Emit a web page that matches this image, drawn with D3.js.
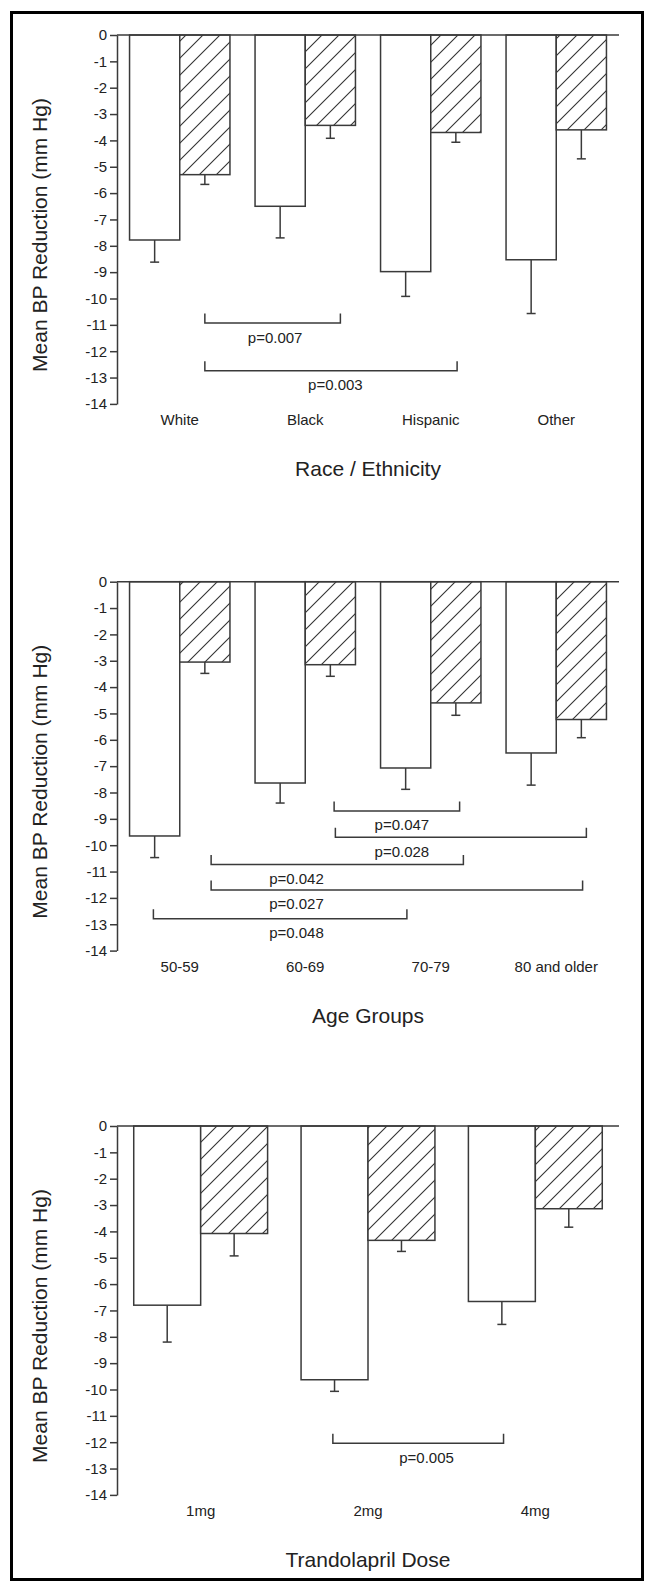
<!DOCTYPE html>
<html lang="en">
<head>
<meta charset="utf-8">
<script src="https://d3js.org/d3.v7.min.js"></script>
<style>
body { margin: 0; background: #fff; }
text { font-family: "Liberation Sans", Arial, sans-serif; fill: #222; }
</style>
</head>
<body>
<script>
// ---- data (mm Hg, negative = reduction) ----
// Race / Ethnicity
var raceCats = ["White", "Black", "Hispanic", "Other"];
var raceOpen = [-7.78, -6.5, -8.98, -8.53];
var raceOpenErr = [-8.62, -7.7, -9.92, -10.57];
var raceHatch = [-5.3, -3.43, -3.7, -3.6];
var raceHatchErr = [-5.67, -3.92, -4.07, -4.7];
// brackets: from/to/tx in group steps, y in mm Hg
var raceBrackets = [
  {from: 0.60, to: 1.68, y: -10.93, label: "p=0.007", tx: 1.16},
  {from: 0.60, to: 2.61, y: -12.74, label: "p=0.003", tx: 1.64}
];

// Age groups
var ageCats = ["50-59", "60-69", "70-79", "80 and older"];
var ageOpen = [-9.65, -7.64, -7.07, -6.5];
var ageOpenErr = [-10.47, -8.4, -7.88, -7.72];
var ageHatch = [-3.05, -3.15, -4.6, -5.23];
var ageHatchErr = [-3.48, -3.59, -5.07, -5.92];
var ageBrackets = [
  {from: 1.63, to: 2.63, y: -8.70, label: "p=0.047", tx: 2.17},
  {from: 1.64, to: 3.64, y: -9.70, label: "p=0.028", tx: 2.17},
  {from: 0.65, to: 2.66, y: -10.73, label: "p=0.042", tx: 1.33},
  {from: 0.65, to: 3.61, y: -11.70, label: "p=0.027", tx: 1.33},
  {from: 0.19, to: 2.21, y: -12.79, label: "p=0.048", tx: 1.33}
];

// Trandolapril dose
var doseCats = ["1mg", "2mg", "4mg"];
var doseOpen = [-6.8, -9.63, -6.66];
var doseOpenErr = [-8.2, -10.07, -7.53];
var doseHatch = [-4.08, -4.34, -3.14];
var doseHatchErr = [-4.93, -4.76, -3.84];
var doseBrackets = [
  {from: 1.19, to: 2.21, y: -12.04, label: "p=0.005", tx: 1.75}
];

var yTicks = d3.range(0, -15, -1);

var W = 645, H = 1582;
var ink = "#3a3a3a";

var svg = d3.select("body").append("svg")
    .attr("width", W)
    .attr("height", H);

var defs = svg.append("defs");
var pat = defs.append("pattern")
    .attr("id", "hatch")
    .attr("patternUnits", "userSpaceOnUse")
    .attr("width", 17)
    .attr("height", 17);
pat.append("rect").attr("width", 17).attr("height", 17).attr("fill", "#fff");
pat.append("path")
    .attr("d", "M0,17L17,0M-4,4L4,-4M13,21L21,13")
    .attr("stroke", "#333")
    .attr("stroke-width", 1.1);

// outer frame
svg.append("rect")
    .attr("x", 11.5).attr("y", 12.5)
    .attr("width", 631).attr("height", 1567)
    .attr("fill", "none")
    .attr("stroke", "#000")
    .attr("stroke-width", 3);

function drawPanel(top, cats, openVals, openErr, hatchVals, hatchErr, brackets, title) {
  var x = d3.scaleBand()
      .domain(cats)
      .range([117, 619])
      .paddingInner(0.2)
      .paddingOuter(0.1);
  var y = d3.scaleLinear()
      .domain([0, -14])
      .range([top, top + 14 * 26.35]);

  var g = svg.append("g");
  var bw = x.bandwidth() / 2;
  var step = x.step();
  var x0 = x(cats[0]);
  function xu(u) { return x0 + u * step; }

  // y axis
  var yAxis = d3.axisLeft(y)
      .tickValues(yTicks)
      .tickFormat(function(d) { return String(d); })
      .tickSize(7)
      .tickSizeOuter(0)
      .tickPadding(3);
  var ag = g.append("g")
      .attr("transform", "translate(117,0)")
      .call(yAxis);
  ag.select(".domain").attr("stroke", ink).attr("stroke-width", 1.5);
  ag.selectAll(".tick line").attr("stroke", ink).attr("stroke-width", 1.5);
  ag.selectAll(".tick text")
      .attr("font-size", 15)
      .style("font-family", "'Liberation Sans', Arial, sans-serif")
      .attr("fill", "#222");

  // bars
  var rows = cats.map(function(c, i) {
    return {cat: c, open: openVals[i], openErr: openErr[i], hatch: hatchVals[i], hatchErr: hatchErr[i]};
  });

  var bars = [];
  rows.forEach(function(r) {
    bars.push({x: x(r.cat), v: r.open, e: r.openErr, fill: "#fff"});
    bars.push({x: x(r.cat) + bw, v: r.hatch, e: r.hatchErr, fill: "url(#hatch)"});
  });

  g.selectAll("line.err")
    .data(bars)
    .enter().append("line")
      .attr("class", "err")
      .attr("x1", function(d) { return d.x + bw / 2; })
      .attr("x2", function(d) { return d.x + bw / 2; })
      .attr("y1", function(d) { return y(d.v); })
      .attr("y2", function(d) { return y(d.e); })
      .attr("stroke", ink).attr("stroke-width", 1.5);
  g.selectAll("line.cap")
    .data(bars)
    .enter().append("line")
      .attr("class", "cap")
      .attr("x1", function(d) { return d.x + bw / 2 - 4.5; })
      .attr("x2", function(d) { return d.x + bw / 2 + 4.5; })
      .attr("y1", function(d) { return y(d.e); })
      .attr("y2", function(d) { return y(d.e); })
      .attr("stroke", ink).attr("stroke-width", 1.5);

  g.selectAll("rect.bar")
    .data(bars)
    .enter().append("rect")
      .attr("class", "bar")
      .attr("x", function(d) { return d.x; })
      .attr("y", y(0))
      .attr("width", bw)
      .attr("height", function(d) { return y(d.v) - y(0); })
      .attr("fill", function(d) { return d.fill; })
      .attr("stroke", ink).attr("stroke-width", 1.5);

  // zero line
  g.append("line")
      .attr("x1", 117).attr("x2", 619)
      .attr("y1", y(0)).attr("y2", y(0))
      .attr("stroke", ink).attr("stroke-width", 1.5);

  // significance brackets
  var bg = g.selectAll("g.bracket")
    .data(brackets)
    .enter().append("g");
  bg.append("path")
      .attr("d", function(d) {
        var yy = y(d.y);
        return "M" + xu(d.from) + "," + (yy - 9.5) + "V" + yy + "H" + xu(d.to) + "V" + (yy - 9.5);
      })
      .attr("fill", "none")
      .attr("stroke", ink).attr("stroke-width", 1.5);
  bg.append("text")
      .attr("x", function(d) { return xu(d.tx); })
      .attr("y", function(d) { return y(d.y) + 19.5; })
      .attr("text-anchor", "middle")
      .attr("font-size", 15)
      .text(function(d) { return d.label; });

  // category labels
  g.selectAll("text.cat")
    .data(cats)
    .enter().append("text")
      .attr("class", "cat")
      .attr("x", function(d) { return x(d) + x.bandwidth() / 2; })
      .attr("y", y(-14) + 21)
      .attr("text-anchor", "middle")
      .attr("font-size", 15)
      .text(function(d) { return d; });

  // axis titles
  g.append("text")
      .attr("x", 368)
      .attr("y", y(-14) + 72)
      .attr("text-anchor", "middle")
      .attr("font-size", 21)
      .text(title);
  g.append("text")
      .attr("transform", "translate(47," + (top + 200) + ") rotate(-90)")
      .attr("text-anchor", "middle")
      .attr("font-size", 21)
      .text("Mean BP Reduction (mm Hg)");
}

drawPanel(35, raceCats, raceOpen, raceOpenErr, raceHatch, raceHatchErr, raceBrackets, "Race / Ethnicity");
drawPanel(581.7, ageCats, ageOpen, ageOpenErr, ageHatch, ageHatchErr, ageBrackets, "Age Groups");
drawPanel(1126, doseCats, doseOpen, doseOpenErr, doseHatch, doseHatchErr, doseBrackets, "Trandolapril Dose");
</script>
</body>
</html>
